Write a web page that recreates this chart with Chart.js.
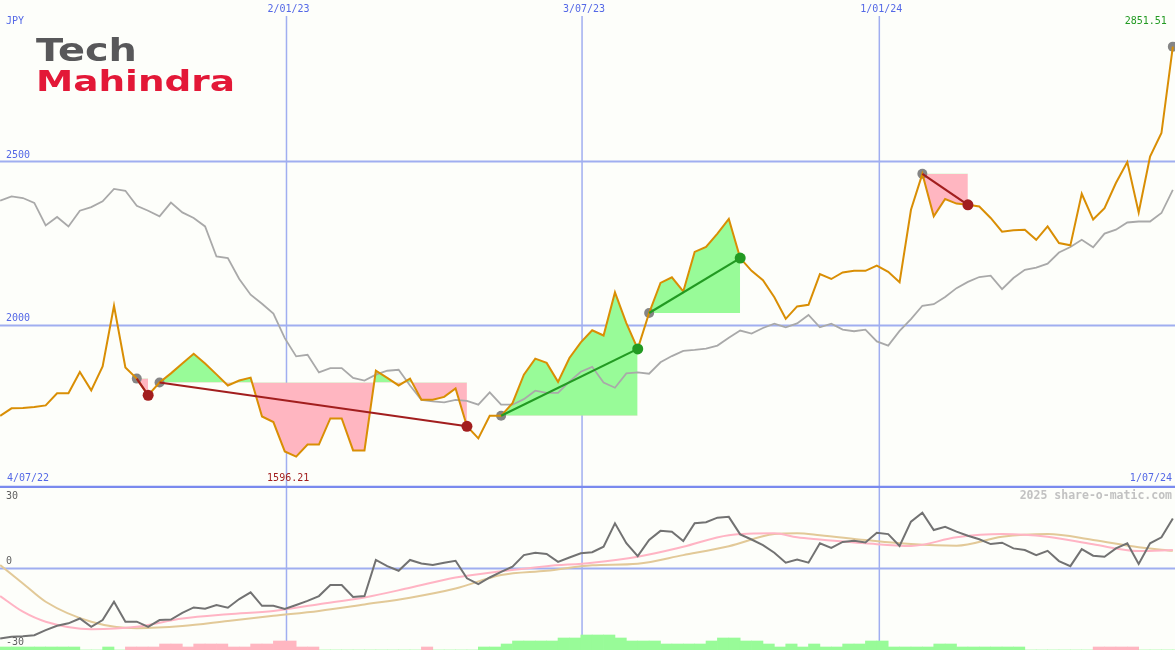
<!DOCTYPE html>
<html>
<head>
<meta charset="utf-8">
<script src="https://cdn.jsdelivr.net/npm/chart.js@4.4.1/dist/chart.umd.min.js"></script>
<style>
  html, body { margin: 0; padding: 0; background: #fdfefa; }
  #wrap { position: relative; width: 1175px; height: 650px; overflow: hidden; background: #fdfefa; }
  canvas { position: absolute; left: 0; }
  #main { top: 0; }
  #osc { top: 488px; }
</style>
</head>
<body>
<div id="wrap">
  <canvas id="main" width="1175" height="488"></canvas>
  <canvas id="osc" width="1175" height="162"></canvas>
</div>
<script>
// DATA (weekly, index = week)
const price = [1721,1744,1745,1748,1753,1790,1790,1855,1799,1872,
  2058,1869,1835,1784,1823,1851,1881,1911,1881,1848,
  1814,1829,1838,1719,1702,1612,1596.21,1633,1633,1713,
  1713,1615,1615,1859,1837,1814,1835,1770,1770,1779,
  1805,1689,1652,1721,1721,1760,1847,1896,1883,1825,
  1898,1946,1983,1967,2099,2005,1926,2036,2128,2145,
  2102,2223,2238,2279,2324,2204,2165,2136,2084,2018,
  2056,2061,2155,2140,2160,2165,2165,2181,2162,2130,
  2352,2462,2332,2385,2371,2367,2362,2327,2285,2289,
  2291,2260,2301,2250,2243,2401,2322,2357,2434,2498,
  2344,2515,2587,2851.51];

const average = [2380,2393,2388,2373,2304,2330,2301,2349,2360,2378,
  2416,2410,2364,2349,2332,2374,2344,2327,2301,2209,
  2204,2140,2092,2064,2034,1959,1903,1908,1854,1867,
  1867,1837,1829,1847,1859,1862,1814,1770,1765,1762,
  1770,1767,1755,1793,1755,1755,1772,1798,1791,1791,
  1826,1856,1871,1823,1807,1851,1854,1850,1885,1904,
  1920,1923,1927,1936,1960,1982,1973,1990,2003,1992,
  2004,2030,1992,2003,1985,1980,1985,1949,1936,1981,
  2017,2058,2063,2085,2112,2131,2146,2150,2109,2143,
  2168,2175,2187,2221,2238,2260,2237,2279,2291,2313,
  2316,2316,2342,2413];

const momentum = [-26.2,-25.6,-25.4,-25,-23.1,-21.5,-20.6,-18.8,-21.9,-19.4,
  -12.6,-20,-20,-21.9,-19.4,-19.2,-16.7,-14.7,-15.2,-13.8,
  -14.8,-11.6,-9.1,-14.1,-14.1,-15.3,-13.8,-12.3,-10.5,-6.4,
  -6.4,-10.8,-10.5,2.9,0.6,-1.1,2.9,1.6,1.0,1.9,
  2.6,-3.9,-6.1,-3.6,-1.5,0.4,4.7,5.6,5.1,2.2,
  3.8,5.4,5.8,7.8,16.5,9.1,4.3,10.3,13.7,13.4,
  9.9,16.5,16.9,18.6,18.9,12.4,10.5,8.4,5.6,1.9,
  3.1,1.9,9.1,7.4,9.6,10,9.4,13,12.5,8.1,
  17.1,20.4,14,15.2,13.4,11.9,10.6,8.8,9.3,7.2,
  6.6,4.7,6.3,2.5,0.6,6.9,4.5,4.1,7.2,9.1,
  1.4,9.1,11.3,18.3];

const smoothWeeks = [0,2,4,8,12,16,20,24,28,32,36,40,44,48,52,56,60,64,68,70,72,76,80,84,88,92,96,100,103];
const smoothFast = [-10.5,-16.3,-20,-22.8,-21.9,-18.8,-17.2,-16,-13.5,-11,-7.4,-3.6,-1.3,0.6,1.9,4.1,7.8,12.1,12.8,11.3,10.5,9.1,8.1,11.3,12.5,11.5,8.7,6.2,6.6];
const smoothSlow = [1.0,-5.8,-12.6,-20,-22.4,-21.6,-19.7,-17.8,-16,-13.6,-11.1,-7.7,-2.7,-1.1,0.9,1.5,4.7,8,12.5,12.8,12.1,10.3,8.8,8.2,11.5,12.5,10.3,7.6,6.3];

// histogram at the bottom, one bar per week (+ green, - pink)
const histogram = [1,1,1,1,1,1,1,0,0,1,
  0,-1,-1,-1,-2,-2,-1,-2,-2,-2,
  -1,-1,-2,-2,-3,-3,-1,-1,0,0,
  0,0,0,0,0,0,0,-1,0,0,
  0,0,1,1,2,3,3,3,3,4,
  4,5,5,5,4,3,3,3,2,2,
  2,2,3,4,4,3,3,2,1,2,
  1,2,1,1,2,2,3,3,1,1,
  1,1,2,2,1,1,1,1,1,1,
  0,0,0,0,0,0,-1,-1,-1,-1,
  0,0,0,0];

const tradeEntry = [12, 14, 44, 57, 81, 103];
const tradeExit = [13, 41, 56, 65, 85, null];

const dateLabels = ["2/01/23", "3/07/23", "1/01/24"];
const datePos = [25.15, 51.11, 77.22];
const startLabel = "4/07/22";
const endLabel = "1/07/24";
const currency = "JPY";
const priceTicks = [2500, 2000];
const oscTicks = [30, 0, -30];

// COLOURS
const BG = "#fdfefa";
const GRID = "rgb(160,174,240)";
const SEP = "rgb(122,138,238)";
const LABEL = "#5468e6";
const ORANGE = "#d98e04";
const RED = "#a21e1e";
const GREEN = "#229a22";
const FONT = "10px 'DejaVu Sans Mono'";

const pts = (arr) => arr.map((v, i) => ({ x: i, y: v }));
const makeX = () => ({ type: "linear", min: -0.013, max: 103.19, offset: false, display: false });

// MAIN PANEL
const mainSets = [];

tradeEntry.forEach((e, i) => {
  const out = tradeExit[i];
  if (out == null) return;
  const seg = [];
  for (let k = e; k <= out; k++) seg.push({ x: k, y: price[k] });
  mainSets.push({
    data: seg, borderWidth: 0, borderColor: "transparent", pointRadius: 0,
    fill: { target: { value: price[e] }, above: "#98fb98", below: "#ffb6c1" },
    order: 10
  });
  const gain = price[out] >= price[e];
  mainSets.push({
    data: [{ x: e, y: price[e] }, { x: out, y: price[out] }],
    borderColor: gain ? GREEN : RED, borderWidth: 2.2, pointRadius: 0, fill: false,
    order: 2
  });
  mainSets.push({
    data: [{ x: out, y: price[out] }], showLine: false,
    pointRadius: 5.5, pointBackgroundColor: gain ? GREEN : RED, pointBorderWidth: 0,
    order: 1
  });
});

mainSets.push({
  data: tradeEntry.map(e => ({ x: e, y: price[e] })), showLine: false,
  pointRadius: 5, pointBackgroundColor: "#858585", pointBorderWidth: 0, order: 4
});
mainSets.push({
  data: pts(average), borderColor: "#a9a9a9", borderWidth: 1.8, pointRadius: 0,
  fill: false, order: 5
});
mainSets.push({
  data: pts(price), borderColor: ORANGE, borderWidth: 2, pointRadius: 0,
  fill: false, order: 3
});

function text(ctx, s, x, y, color, align, font) {
  ctx.font = font || FONT;
  ctx.fillStyle = color;
  ctx.textAlign = align || "left";
  ctx.textBaseline = "middle";
  ctx.fillText(s, x, y);
}

function logoWord(ctx, s, x, base, size, width, color) {
  ctx.save();
  ctx.font = "bold " + size + "px 'DejaVu Sans'";
  const w = ctx.measureText(s).width;
  ctx.translate(x, base);
  ctx.scale(width / w, 1);
  ctx.fillStyle = color;
  ctx.textAlign = "left";
  ctx.textBaseline = "alphabetic";
  ctx.fillText(s, 0, 0);
  ctx.restore();
}

const mainDecor = {
  id: "mainDecor",
  beforeDraw(chart) {
    const ctx = chart.ctx;
    ctx.save();
    ctx.fillStyle = BG;
    ctx.fillRect(0, 0, chart.width, chart.height);
    ctx.restore();
  },
  beforeDatasetsDraw(chart) {
    const { ctx, scales: { x, y } } = chart;
    ctx.save();
    ctx.strokeStyle = GRID;
    ctx.lineWidth = 2;
    priceTicks.forEach(v => {
      const py = Math.round(y.getPixelForValue(v)) + 0.5;
      ctx.beginPath(); ctx.moveTo(0, py); ctx.lineTo(chart.width, py); ctx.stroke();
    });
    ctx.lineWidth = 1.5;
    datePos.forEach(d => {
      const px = x.getPixelForValue(d);
      ctx.beginPath(); ctx.moveTo(px, 16); ctx.lineTo(px, chart.height); ctx.stroke();
    });
    ctx.restore();
  },
  afterDraw(chart) {
    const { ctx, scales: { x, y } } = chart;
    ctx.save();
    ctx.strokeStyle = SEP;
    ctx.lineWidth = 2.5;
    ctx.beginPath(); ctx.moveTo(0, 487); ctx.lineTo(chart.width, 487); ctx.stroke();

    logoWord(ctx, "Tech", 36, 61, 32, 101, "#58585a");
    logoWord(ctx, "Mahindra", 36, 91, 29, 199, "#e31837");

    text(ctx, currency, 6, 21, LABEL);
    dateLabels.forEach((s, i) => text(ctx, s, x.getPixelForValue(datePos[i]) + 2, 9, LABEL, "center"));
    priceTicks.forEach(v => text(ctx, String(v), 6, y.getPixelForValue(v) - 6, LABEL));
    text(ctx, startLabel, 7, 478, LABEL);
    text(ctx, endLabel, 1172, 478, LABEL, "right");

    const lo = Math.min(...price), hi = Math.max(...price);
    const loX = x.getPixelForValue(price.indexOf(lo)) - 8;
    text(ctx, lo.toFixed(2), loX, 478, RED, "center");
    const hiX = x.getPixelForValue(price.indexOf(hi)) - 6;
    text(ctx, hi.toFixed(2), hiX, 21, GREEN, "right");
    ctx.restore();
  }
};

new Chart(document.getElementById("main"), {
  type: "line",
  data: { datasets: mainSets },
  options: {
    responsive: false,
    animation: false,
    devicePixelRatio: 1,
    layout: { padding: 0, autoPadding: false },
    plugins: { legend: { display: false }, tooltip: { enabled: false } },
    scales: {
      x: makeX(),
      y: { type: "linear", min: 1500, max: 2994.3, display: false }
    }
  },
  plugins: [mainDecor]
});

// LOWER PANEL
const oscDecor = {
  id: "oscDecor",
  beforeDraw(chart) {
    const ctx = chart.ctx;
    ctx.save();
    ctx.fillStyle = BG;
    ctx.fillRect(0, 0, chart.width, chart.height);
    ctx.restore();
  },
  beforeDatasetsDraw(chart) {
    const { ctx, scales: { x, y } } = chart;
    ctx.save();
    ctx.strokeStyle = GRID;
    ctx.lineWidth = 2;
    const py = Math.round(y.getPixelForValue(0)) + 0.5;
    ctx.beginPath(); ctx.moveTo(0, py); ctx.lineTo(chart.width, py); ctx.stroke();
    ctx.lineWidth = 1.5;
    datePos.forEach(d => {
      const px = x.getPixelForValue(d);
      ctx.beginPath(); ctx.moveTo(px, 0); ctx.lineTo(px, chart.height); ctx.stroke();
    });
    ctx.restore();
  },
  afterDraw(chart) {
    const { ctx, scales: { y } } = chart;
    ctx.save();
    text(ctx, String(oscTicks[0]), 6, 8, "#606060");
    text(ctx, String(oscTicks[1]), 6, y.getPixelForValue(0) - 6, "#606060");
    text(ctx, String(oscTicks[2]), 6, chart.height - 8, "#606060");
    text(ctx, "2025 share-o-matic.com", 1172, 8, "#c2c2c2", "right", "bold 11.5px 'DejaVu Sans Mono'");
    ctx.restore();
  }
};

new Chart(document.getElementById("osc"), {
  type: "line",
  data: {
    datasets: [
      {
        type: "bar", yAxisID: "yb",
        data: histogram.map((v, i) => ({ x: i + 0.5, y: Math.abs(v) })),
        backgroundColor: histogram.map(v => v >= 0 ? "#98fb98" : "#ffb6c1"),
        borderWidth: 0, barPercentage: 1, categoryPercentage: 1, order: 10
      },
      {
        data: smoothWeeks.map((w, i) => ({ x: w, y: smoothSlow[i] })),
        borderColor: "#e2c998", borderWidth: 2, pointRadius: 0, fill: false,
        cubicInterpolationMode: "monotone", order: 5
      },
      {
        data: smoothWeeks.map((w, i) => ({ x: w, y: smoothFast[i] })),
        borderColor: "#ffb4c4", borderWidth: 2, pointRadius: 0, fill: false,
        cubicInterpolationMode: "monotone", order: 4
      },
      {
        data: pts(momentum), borderColor: "#727272", borderWidth: 2, pointRadius: 0,
        fill: false, order: 1
      }
    ]
  },
  options: {
    responsive: false,
    animation: false,
    devicePixelRatio: 1,
    layout: { padding: 0, autoPadding: false },
    plugins: { legend: { display: false }, tooltip: { enabled: false } },
    scales: {
      x: makeX(),
      y: { type: "linear", min: -30.5, max: 29.6, display: false },
      yb: { type: "linear", min: 0, max: 54, display: false }
    }
  },
  plugins: [oscDecor]
});
</script>
</body>
</html>
